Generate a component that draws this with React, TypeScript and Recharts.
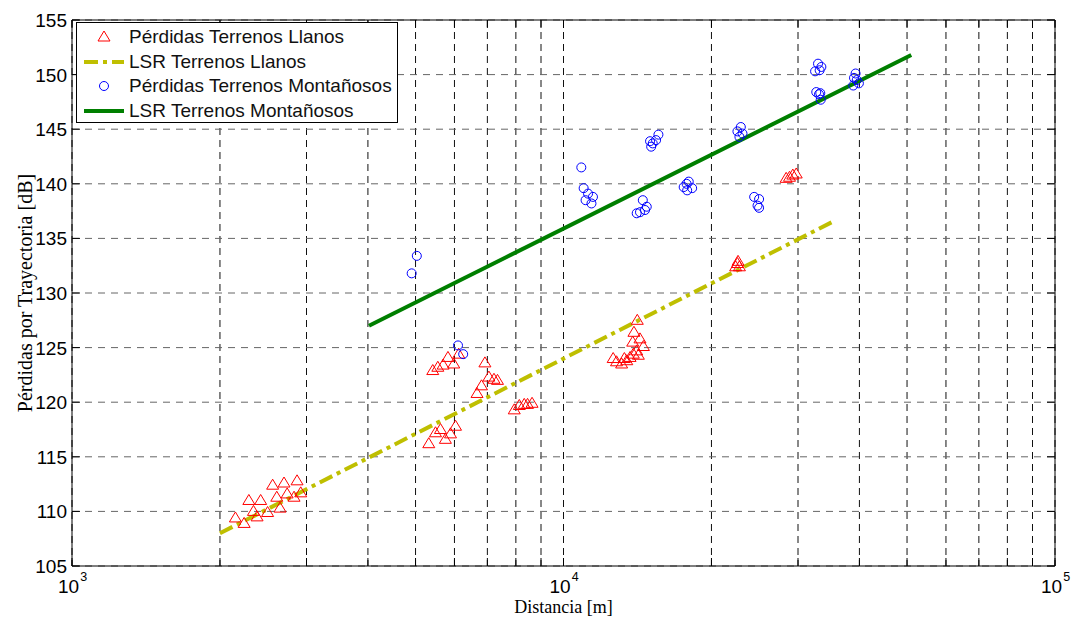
import React from "react"
import {
  ComposedChart,
  Scatter,
  Line,
  XAxis,
  YAxis,
  CartesianGrid,
  ReferenceLine,
  Legend,
} from "recharts"

// Measured path loss, flat terrain (distance in m, loss in dB)
const llanosDist = [
  2150, 2240, 2290, 2420, 2340, 2380, 2500, 2560, 2700, 2870, 2610, 2740, 2830, 2650, 2920,
  5420, 5550, 5690, 5820, 5980, 6120,
  6920, 7050, 7220, 7340, 6810, 6670,
  7940, 8130, 8320, 8450, 8630,
  5320, 5490, 5620, 5750, 5890, 6030,
  14130, 13910, 14310, 13830, 14540, 14090, 12620, 12820, 13130, 13450, 13660, 13870, 14200, 13300,
  22590, 22400, 22800, 22650,
  28380, 28830, 29280, 29750,
]
const llanosLoss = [
  109.4, 108.9, 111.0, 111.0, 110.0, 109.5, 109.9, 112.4, 112.6, 112.8, 111.3, 111.6, 111.3, 110.3, 111.7,
  122.9, 123.2, 123.4, 124.1, 123.5, 124.4,
  123.6, 122.3, 122.1, 122.0, 121.5, 120.8,
  119.3, 119.7, 119.8, 119.8, 119.9,
  116.2, 117.2, 117.5, 116.6, 117.1, 117.8,
  127.5, 126.4, 125.8, 125.5, 125.1, 124.7, 124.0, 123.7, 123.5, 123.8, 124.1, 124.4, 124.3, 124.0,
  132.7, 132.4, 132.4, 132.9,
  140.5, 140.6, 140.8, 140.9,
]

// Measured path loss, mountainous terrain
const montDist = [
  5030, 4910, 6100, 6250,
  10870, 10990, 11220, 11480, 11090, 11400,
  14500, 14090, 14310, 14650, 14770,
  15000, 15190, 15600, 15430, 15080,
  17560, 17980, 17850, 18270, 17800,
  22950, 22590, 23130, 22800,
  24430, 25000, 24820, 25000,
  32950, 33470, 32500, 33200, 32680, 33300, 33370, 33100,
  39290, 39000, 38860, 39900, 39500,
]
const montLoss = [
  133.4, 131.8, 125.2, 124.4,
  141.5, 139.6, 139.1, 138.8, 138.5, 138.2,
  138.5, 137.3, 137.4, 137.6, 137.9,
  143.9, 143.7, 144.5, 144.0, 143.4,
  139.7, 140.2, 139.4, 139.6, 140.0,
  145.2, 144.8, 144.6, 144.3,
  138.8, 138.6, 138.0, 137.8,
  151.0, 150.7, 150.3, 150.4, 148.4, 148.3, 147.7, 148.2,
  150.1, 149.7, 149.0, 149.2, 149.5,
]

// Least-squares fits (end points)
const lsrLlanosDist = [2000, 35200]
const lsrLlanosLoss = [108.0, 136.5]
const lsrMontDist = [4020, 51000]
const lsrMontLoss = [127.0, 151.8]

const xTicks = [
  1000, 2000, 3000, 4000, 5000, 6000, 7000, 8000, 9000,
  10000, 20000, 30000, 40000, 50000, 60000, 70000, 80000, 90000, 100000,
]
const yTicks = [105, 110, 115, 120, 125, 130, 135, 140, 145, 150, 155]

const legendLabels = [
  "Pérdidas Terrenos Llanos",
  "LSR Terrenos Llanos",
  "Pérdidas Terrenos Montañosos",
  "LSR Terrenos Montañosos",
]

const toPts = (xs: number[], ys: number[]) => xs.map((x, i) => ({ x, y: ys[i] }))

const llanosPts = toPts(llanosDist, llanosLoss)
const montPts = toPts(montDist, montLoss)
const lsrLlanos = toPts(lsrLlanosDist, lsrLlanosLoss)
const lsrMont = toPts(lsrMontDist, lsrMontLoss)

const RED = "#FF0000"
const BLUE = "#0000FF"
const YELLOW = "#BFBF00"
const GREEN = "#007F00"
const SANS = "'Liberation Sans', Arial, sans-serif"
const SERIF = "'Liberation Serif', 'Times New Roman', serif"

const PLOT_TOP = 20
const PLOT_RIGHT = 1055

function Triangle(props: any) {
  const { cx, cy } = props
  return (
    <polygon
      points={`${cx},${cy - 6} ${cx - 6},${cy + 4} ${cx + 6},${cy + 4}`}
      fill="none"
      stroke={RED}
      strokeWidth={1}
    />
  )
}

function Circle(props: any) {
  const { cx, cy } = props
  return <circle cx={cx} cy={cy} r={4.5} fill="none" stroke={BLUE} strokeWidth={1} />
}

function XTick(props: any) {
  const { x, y, payload } = props
  const v = payload.value
  const exp = Math.round(Math.log10(v))
  const major = Math.abs(Math.pow(10, exp) - v) < 1e-6
  return (
    <g>
      <line x1={x} y1={y} x2={x} y2={y - 8} stroke="#000" />
      <line x1={x} y1={PLOT_TOP} x2={x} y2={PLOT_TOP + 8} stroke="#000" />
      {major && (
        <text x={x - 14} y={y + 27} fontFamily={SANS} fontSize={19} fill="#000">
          10
          <tspan dx={1} dy={-12} fontSize={12.5}>
            {exp}
          </tspan>
        </text>
      )}
    </g>
  )
}

function YTick(props: any) {
  const { x, y, payload } = props
  return (
    <g>
      <line x1={x} y1={y} x2={x + 8} y2={y} stroke="#000" />
      <line x1={PLOT_RIGHT - 8} y1={y} x2={PLOT_RIGHT} y2={y} stroke="#000" />
      <text x={x - 5} y={y + 7} textAnchor="end" fontFamily={SANS} fontSize={19} fill="#000">
        {payload.value}
      </text>
    </g>
  )
}

function XTitle(props: any) {
  const { viewBox } = props
  return (
    <text
      x={viewBox.x + viewBox.width / 2}
      y={613}
      textAnchor="middle"
      fontFamily={SERIF}
      fontSize={18}
      fill="#000"
    >
      Distancia [m]
    </text>
  )
}

function YTitle(props: any) {
  const { viewBox } = props
  const cy = viewBox.y + viewBox.height / 2
  return (
    <text
      transform={`translate(25, ${cy}) rotate(-90)`}
      textAnchor="middle"
      dominantBaseline="central"
      fontFamily={SERIF}
      fontSize={20}
      fill="#000"
    >
      Pérdidas por Trayectoria [dB]
    </text>
  )
}

function LegendSymbol({ index }: { index: number }) {
  if (index === 0)
    return <polygon points="27,6 21,16 33,16" fill="none" stroke={RED} strokeWidth={1} />
  if (index === 1)
    return (
      <line x1={7} y1={12} x2={47} y2={12} stroke={YELLOW} strokeWidth={4} strokeDasharray="14 5 4 5" />
    )
  if (index === 2) return <circle cx={27} cy={12} r={4.5} fill="none" stroke={BLUE} strokeWidth={1} />
  return <line x1={7} y1={12} x2={47} y2={12} stroke={GREEN} strokeWidth={4} />
}

function LegendBox() {
  return (
    <div
      style={{
        boxSizing: "border-box",
        width: 322,
        height: 101,
        border: "1px solid #000",
        background: "#fff",
        paddingTop: 2,
      }}
    >
      {legendLabels.map((label, i) => (
        <div key={label} style={{ display: "flex", alignItems: "center", height: 24.5 }}>
          <svg width={52} height={24} style={{ flex: "none" }}>
            <LegendSymbol index={i} />
          </svg>
          <span style={{ fontFamily: SANS, fontSize: 19, color: "#111", whiteSpace: "nowrap" }}>
            {label}
          </span>
        </div>
      ))}
    </div>
  )
}

export default function App() {
  return (
    <div style={{ position: "absolute", left: 0, top: 0, width: 1076, height: 620, background: "#fff" }}>
      <ComposedChart width={1076} height={620} margin={{ top: 20, right: 21, bottom: 0, left: 0 }}>
        <CartesianGrid horizontal={false} stroke="#111" strokeDasharray="7 5" />
        <CartesianGrid vertical={false} stroke="#666" strokeDasharray="7 6" />
        <XAxis
          dataKey="x"
          type="number"
          scale="log"
          domain={[1000, 100000]}
          ticks={xTicks}
          interval={0}
          allowDataOverflow
          height={54}
          tickSize={0}
          tickMargin={0}
          tick={<XTick />}
          axisLine={{ stroke: "#000" }}
          label={<XTitle />}
        />
        <YAxis
          type="number"
          domain={[105, 155]}
          ticks={yTicks}
          interval={0}
          allowDataOverflow
          width={72}
          tickSize={0}
          tickMargin={0}
          tick={<YTick />}
          axisLine={{ stroke: "#000" }}
          label={<YTitle />}
        />
        <ReferenceLine y={155} stroke="#000" />
        <ReferenceLine x={100000} stroke="#000" />
        <Line
          data={lsrLlanos}
          dataKey="y"
          stroke={YELLOW}
          strokeWidth={4}
          strokeDasharray="14 5 4 5"
          dot={false}
          isAnimationActive={false}
        />
        <Line
          data={lsrMont}
          dataKey="y"
          stroke={GREEN}
          strokeWidth={4}
          dot={false}
          isAnimationActive={false}
        />
        <Scatter data={llanosPts} dataKey="y" shape={Triangle} isAnimationActive={false} />
        <Scatter data={montPts} dataKey="y" shape={Circle} isAnimationActive={false} />
        <Legend
          layout="vertical"
          align="center"
          verticalAlign="middle"
          content={() => <LegendBox />}
          wrapperStyle={{ left: 76, top: 22, width: 322, height: 101 }}
        />
      </ComposedChart>
    </div>
  )
}
